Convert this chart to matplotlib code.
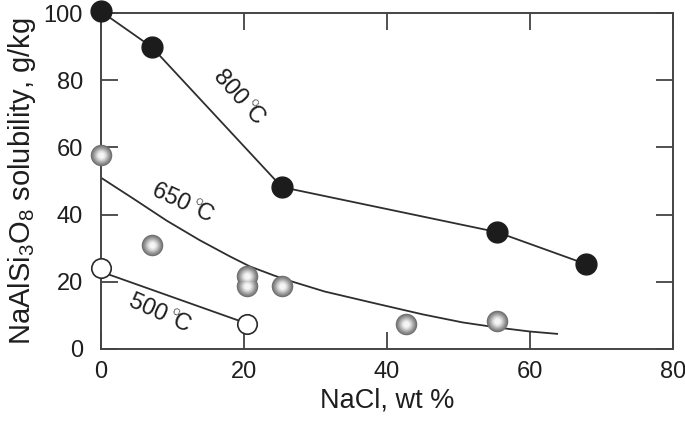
import matplotlib
matplotlib.use("Agg")
import matplotlib.pyplot as plt
import numpy as np

plt.rcParams['font.family'] = ['Liberation Sans', 'DejaVu Sans']
plt.rcParams['mathtext.fontset'] = 'custom'
plt.rcParams['mathtext.rm'] = 'Liberation Sans'

x800 = [0, 7.1, 25.3, 55.4, 67.8]
y800 = [100.5, 89.9, 48.2, 34.8, 25.3]

x650 = [0, 7.1, 20.4, 20.4, 25.3, 42.7, 55.4]
y650 = [57.8, 31.0, 21.7, 18.8, 18.8, 7.4, 8.3]

x500 = [0, 20.4]
y500 = [24.2, 7.4]

# hand drawn trend curve for 650 C
cx650 = [0, 4.5, 9.2, 13.8, 18, 20.8, 24.3, 27, 31.3, 38.3, 45, 50.6, 55.4, 60, 63.8]
cy650 = [51, 44.8, 38.2, 32.4, 27.6, 24.6, 21.8, 19.9, 17.1, 13.6, 10.3, 7.9, 6.4, 5.2, 4.5]

# 500 C trend line
cx500 = [0, 20.4]
cy500 = [23.0, 7.6]

fig = plt.figure(figsize=(6.85, 4.23), dpi=100)
ax = fig.add_axes([0.1474, 0.175, 0.835, 0.794])

lc = '#2e2e2e'
ax.plot(x800, y800, color=lc, lw=1.3, zorder=2)
ax.plot(cx650, cy650, color=lc, lw=1.3, zorder=2)
ax.plot(cx500, cy500, color=lc, lw=1.3, zorder=2)

# black markers
ax.plot(x800, y800, 'o', ms=15, mfc='#1c1c1c', mec='#1c1c1c', zorder=4, clip_on=False)

# gray shaded spheres: stacked circles getting lighter to the centre
shades = ['#707070', '#808080', '#929292', '#a5a5a5', '#b9b9b9', '#cdcdcd', '#e1e1e1', '#f5f5f5']
sizes = [15.5, 14, 12.5, 11, 9.5, 8, 6.5, 4.5]
for c, s in zip(shades, sizes):
    ax.plot(x650, y650, 'o', ms=s, mfc=c, mec='none', zorder=4, clip_on=False)

# open markers
ax.plot(x500, y500, 'o', ms=14, mfc='white', mec='#2a2a2a', mew=1.2, zorder=4, clip_on=False)

deg = '$\\,^{\\circ}\\!$C'
ax.text(19.2, 74.7, '800' + deg, rotation=-48, fontsize=17, ha='center', va='center', color='#1e1e1e')
ax.text(11.3, 43.2, '650' + deg, rotation=-25, fontsize=17, ha='center', va='center', color='#1e1e1e')
ax.text(8.1, 10.1, '500' + deg, rotation=-24, fontsize=17, ha='center', va='center', color='#1e1e1e')

ax.set_xlim(0, 80)
ax.set_ylim(0, 100)
ax.set_xticks([0, 20, 40, 60, 80])
ax.set_yticks([0, 20, 40, 60, 80, 100])

for s in ax.spines.values():
    s.set_color('#444444')
    s.set_linewidth(1.4)

ax.tick_params(direction='in', length=12, width=1.2, color='#333333',
               top=True, right=True, labelsize=17, colors='#1e1e1e')
ax.tick_params(axis='x', pad=9)
ax.tick_params(axis='y', pad=13)

ax.set_xlabel('NaCl, wt %', fontsize=19.5, color='#1e1e1e', labelpad=3)
ax.set_ylabel('NaAlSi$_3$O$_8$ solubility, g/kg', fontsize=21, color='#1e1e1e', labelpad=4)

fig.savefig('out.png', dpi=100)
